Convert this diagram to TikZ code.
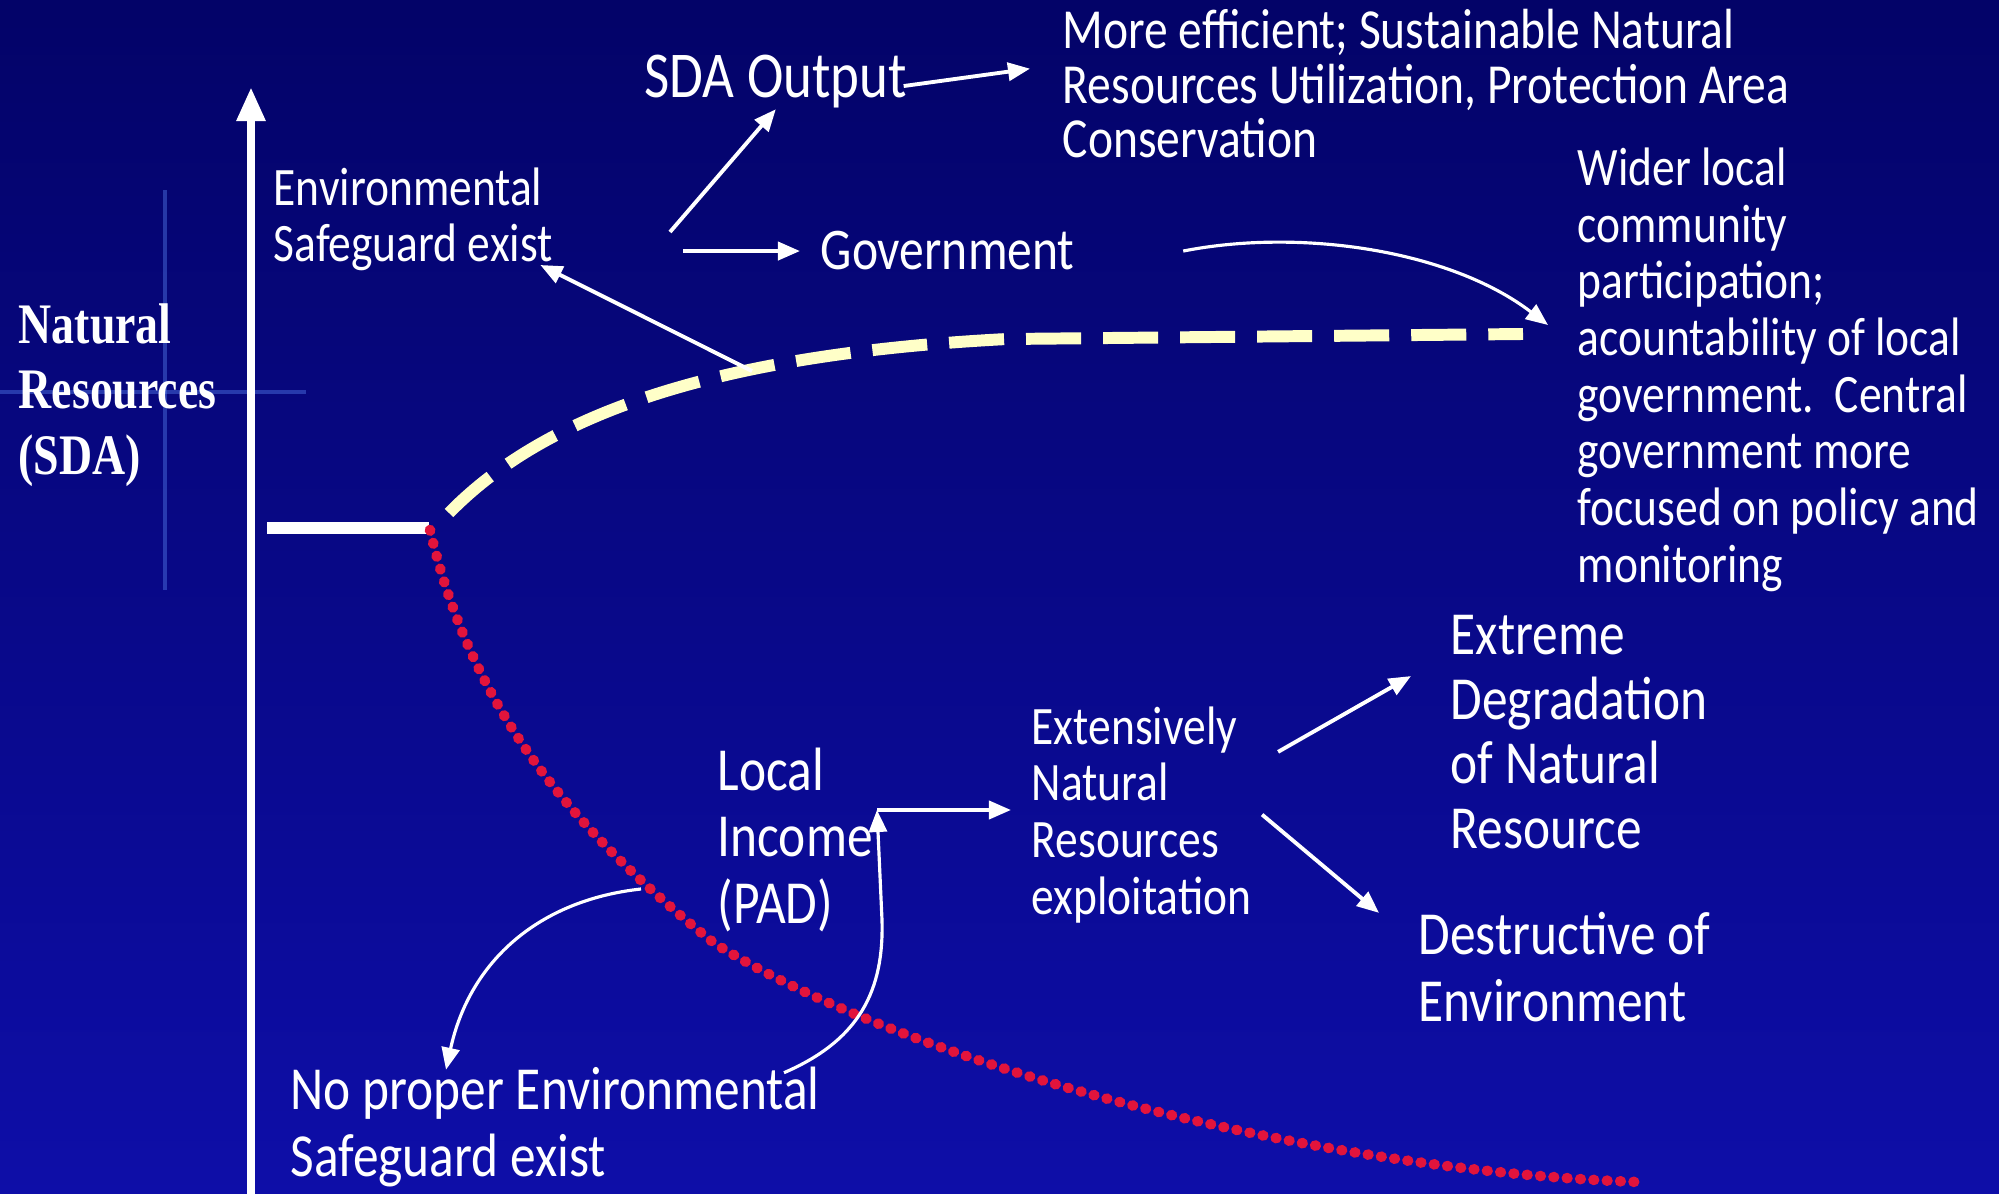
\documentclass[tikz,border=0pt]{standalone}
\usepackage{fontspec}
\setmainfont{Carlito}[FakeStretch=0.84]
\newfontfamily\axisfont{Liberation Serif}[FakeStretch=0.80]
\usetikzlibrary{arrows.meta,calc}

\definecolor{bgtop}{RGB}{3,3,104}
\definecolor{bgbottom}{RGB}{14,14,168}
\definecolor{cream}{RGB}{255,255,200}
\definecolor{beadred}{RGB}{226,20,60}
\definecolor{gridblue}{RGB}{80,120,230}

\tikzset{
  txt/.style={text=white, inner sep=0pt, align=left, anchor=base west, font=\fontsize{15.4}{16.1}\selectfont},
  headtxt/.style={txt, font=\fontsize{16.8}{18}\selectfont},
  bigtxt/.style={txt, font=\fontsize{17.4}{18.8}\selectfont},
  arr/.style={draw=white, line width=1.1pt, -{Triangle[length=2.2mm, width=1.8mm]}},
  curvearr/.style={draw=white, line width=0.9pt, -{Triangle[length=2.2mm, width=1.8mm]}},
}

\begin{document}
\begin{tikzpicture}[x=0.01cm, y=-0.01cm]
  \useasboundingbox (0,0) rectangle (1999,1194);
  \shade[top color=bgtop, bottom color=bgbottom] (0,0) rectangle (1999,1194);
  \draw[gridblue, line width=1pt, opacity=0.45] (165,190) -- (165,590);
  \draw[gridblue, line width=1pt, opacity=0.45] (0,392) -- (306,392);

  \draw[white, line width=2.4pt, -{Triangle[length=3.4mm, width=2.7mm]}] (251,1194) -- (251,87);
  \draw[white, line width=3.6pt] (267,528) -- (429,528);
  \draw[cream, line width=3.4pt, dash pattern=on 0.55cm off 0.22cm] (449,513) .. controls (540,420) and (700,355) .. (1007,339) -- (1523,334);
  \draw[beadred, line width=3pt, line cap=round, dash pattern=on 0.2pt off 3.6pt] (430,530) .. controls (470,700) and (560,820) .. (714,943) .. controls (900,1060) and (1300,1170) .. (1638,1182);

  \node[txt, font=\axisfont\bfseries\fontsize{16.3}{18.5}\selectfont] (axislabel) at (18,474) {Natural\\Resources\\(SDA)};
  \node[headtxt, font=\fontsize{18.6}{19}\selectfont] (sda) at (644,98) {SDA Output};
  \node[headtxt] (gov) at (820,270) {Government};
  \node[txt] (safe) at (273,262) {Environmental\\Safeguard exist};
  \node[txt, font=\fontsize{16.1}{15.6}\selectfont] (more) at (1062,158) {More efficient; Sustainable Natural\\Resources Utilization, Protection Area\\Conservation};
  \node[txt] (wider) at (1577,582) {Wider local\\community\\participation;\\acountability of local\\government.\ \ Central\\government more\\focused on policy and\\monitoring};
  \node[bigtxt] (income) at (717,923) {Local\\Income\\(PAD)};
  \node[txt] (exploit) at (1031,914) {Extensively\\Natural\\Resources\\exploitation};
  \node[bigtxt, font=\fontsize{17.4}{18.3}\selectfont] (degrade) at (1450,848) {Extreme\\Degradation\\of Natural\\Resource};
  \node[bigtxt] (destroy) at (1418,1021) {Destructive of\\Environment};
  \node[bigtxt] (nosafe) at (290,1176) {No proper Environmental\\Safeguard exist};

  \coordinate (fork) at (670,232);
  \coordinate (forkright) at (683,251);
  \coordinate (dashpt) at (752,371);
  \coordinate (dashend) at (1548,325);
  \coordinate (redpt) at (641,889);
  \coordinate (padturn) at (877,810);

  \draw[arr] ($(sda.east)+(-4,4)$) -- ($(more.west)+(-32,-15)$);
  \draw[arr] (fork) -- (sda.south);
  \draw[arr] (forkright) -- ($(gov.west)+(-20,0)$);
  \draw[arr] (dashpt) -- ($(safe.south east)+(-13,-7)$);
  \draw[curvearr] ($(gov.east)+(108,0)$) .. controls (1300,228) and (1450,250) .. (dashend);
  \draw[curvearr] ($(nosafe.north west)+(494,6)$) .. controls (860,1040) and (884,990) .. (882,920) -- (padturn);
  \draw[arr, shorten >=0.2cm] (padturn) -- (padturn -| exploit.west);
  \draw[curvearr] (redpt) .. controls (540,900) and (470,960) .. ($(nosafe.north west)+(156,3)$);
  \draw[arr] ($(exploit.north east)+(26,46)$) -- ($(degrade.west)+(-39,-56)$);
  \draw[arr] ($(exploit.east)+(10,0)$) -- ($(destroy.north west)+(-39,1)$);
\end{tikzpicture}
\end{document}
